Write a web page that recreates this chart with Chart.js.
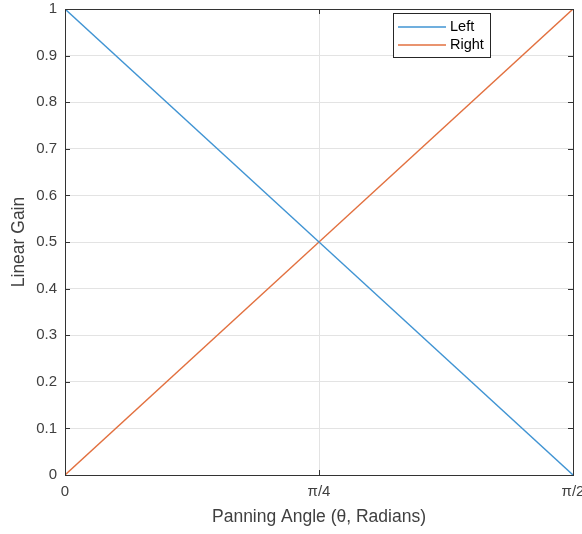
<!DOCTYPE html>
<html>
<head>
<meta charset="utf-8">
<script src="https://cdn.jsdelivr.net/npm/chart.js@4"></script>
<style>
  html, body { margin: 0; padding: 0; background: #fff; }
  #wrap { width: 582px; height: 534px; }
</style>
</head>
<body>
<div id="wrap"><canvas id="panChart" width="582" height="534"></canvas></div>
<script>
// Panning law data
const angles = [0, Math.PI / 4, Math.PI / 2];
const leftGain = [1, 0.5, 0];
const rightGain = [0, 0.5, 1];
const xTickValues = [0, Math.PI / 4, Math.PI / 2];
const xTickLabels = ['0', 'π/4', 'π/2'];
const yTickLabels = ['0', '0.1', '0.2', '0.3', '0.4', '0.5', '0.6', '0.7', '0.8', '0.9', '1'];

const axisColor = '#333333';
const textColor = '#404040';
const gridColor = '#e3e3e3';
const fontFamily = '"Liberation Sans", Arial, sans-serif';

// box, inward tick marks and legend, drawn the matlab way
const matlabAxes = {
    id: 'matlabAxes',
    afterDatasetsDraw(chart) {
        const ctx = chart.ctx;
        const area = chart.chartArea;
        const xs = chart.scales.x;
        const ys = chart.scales.y;
        const tick = 5;
        ctx.save();
        ctx.strokeStyle = axisColor;
        ctx.lineWidth = 1;
        ctx.beginPath();
        xs.ticks.forEach(t => {
            const px = Math.round(xs.getPixelForValue(t.value)) + 0.5;
            ctx.moveTo(px, area.bottom); ctx.lineTo(px, area.bottom - tick);
            ctx.moveTo(px, area.top); ctx.lineTo(px, area.top + tick);
        });
        ys.ticks.forEach(t => {
            const py = Math.round(ys.getPixelForValue(t.value)) + 0.5;
            ctx.moveTo(area.left, py); ctx.lineTo(area.left + tick, py);
            ctx.moveTo(area.right, py); ctx.lineTo(area.right - tick, py);
        });
        ctx.stroke();
        ctx.strokeRect(Math.round(area.left) + 0.5, Math.round(area.top) + 0.5,
            Math.round(area.right - area.left), Math.round(area.bottom - area.top));

        // legend
        const bx = 393.5, by = 13.5, bw = 97, bh = 44;
        ctx.fillStyle = '#fff';
        ctx.fillRect(bx, by, bw, bh);
        ctx.strokeStyle = '#262626';
        ctx.strokeRect(bx, by, bw, bh);
        ctx.font = '14.5px ' + fontFamily;
        ctx.textBaseline = 'middle';
        ctx.textAlign = 'left';
        chart.data.datasets.forEach((ds, i) => {
            const y = 27 + i * 18;
            ctx.strokeStyle = ds.borderColor;
            ctx.lineWidth = 1.3;
            ctx.beginPath();
            ctx.moveTo(398, y); ctx.lineTo(446, y);
            ctx.stroke();
            ctx.fillStyle = '#000';
            ctx.fillText(ds.label, 450, y);
        });
        ctx.restore();
    }
};

function initializePanChart() {
    const ctx = document.getElementById('panChart').getContext('2d');
    new Chart(ctx, {
        type: 'line',
        data: {
            datasets: [{
                label: 'Left',
                data: angles.map((a, i) => ({x: a, y: leftGain[i]})),
                borderColor: '#4094d3',
                borderWidth: 1.4,
                pointRadius: 0,
                tension: 0,
                fill: false
            }, {
                label: 'Right',
                data: angles.map((a, i) => ({x: a, y: rightGain[i]})),
                borderColor: '#e2703f',
                borderWidth: 1.4,
                pointRadius: 0,
                tension: 0,
                fill: false
            }]
        },
        options: {
            responsive: false,
            animation: false,
            layout: { padding: { top: 9, right: 9, left: 0, bottom: 0 } },
            plugins: {
                legend: { display: false },
                tooltip: { enabled: false }
            },
            scales: {
                x: {
                    type: 'linear',
                    min: 0,
                    max: Math.PI / 2,
                    afterBuildTicks: scale => {
                        scale.ticks = xTickValues.map(v => ({value: v}));
                    },
                    afterFit: scale => {
                        scale.height = 59;
                        scale.paddingLeft = 0;
                        scale.paddingRight = 0;
                    },
                    ticks: {
                        autoSkip: false,
                        maxRotation: 0,
                        padding: 8,
                        color: textColor,
                        font: { family: fontFamily, size: 15 },
                        callback: (value, index) => xTickLabels[index]
                    },
                    grid: { color: gridColor, drawTicks: false },
                    border: { display: false },
                    title: {
                        display: true,
                        text: 'Panning Angle (θ, Radians)',
                        color: textColor,
                        font: { family: fontFamily, size: 17.5 },
                        padding: { top: 0, bottom: 6.5 }
                    }
                },
                y: {
                    min: 0,
                    max: 1,
                    afterFit: scale => {
                        scale.width = 65;
                        scale.paddingTop = 0;
                        scale.paddingBottom = 0;
                    },
                    ticks: {
                        stepSize: 0.1,
                        padding: 8,
                        color: textColor,
                        font: { family: fontFamily, size: 15 },
                        callback: (value, index) => yTickLabels[index]
                    },
                    grid: { color: gridColor, drawTicks: false },
                    border: { display: false },
                    title: {
                        display: true,
                        text: 'Linear Gain',
                        color: textColor,
                        font: { family: fontFamily, size: 17.5 },
                        padding: { top: 8.5, bottom: 0 }
                    }
                }
            }
        },
        plugins: [matlabAxes]
    });
}

document.addEventListener('DOMContentLoaded', initializePanChart);
</script>
</body>
</html>
